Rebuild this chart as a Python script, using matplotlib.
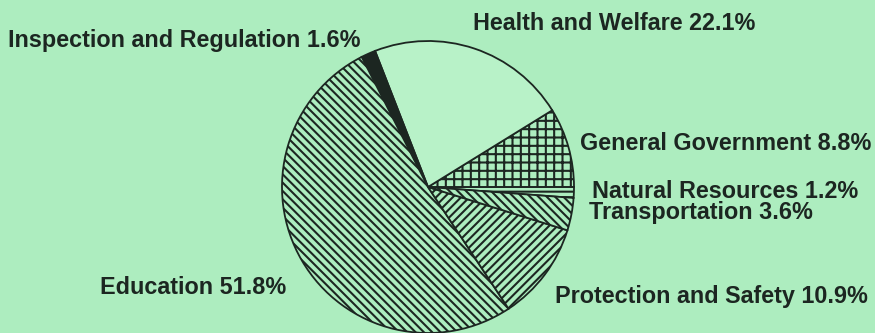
import matplotlib
matplotlib.use("Agg")
import matplotlib.pyplot as plt

# state spending shares, counter-clockwise from the right edge
categories = ["Natural Resources", "General Government", "Health and Welfare",
              "Inspection and Regulation", "Education", "Protection and Safety",
              "Transportation"]
shares = [1.2, 8.8, 22.1, 1.6, 51.8, 10.9, 3.6]
hatches = ["---", "++", "", "", "\\\\\\\\", "////", "\\\\\\\\"]

bg = "#adedbf"
ink = "#1c2621"
fills = [bg, bg, "#b8f2c8", ink, bg, bg, bg]

# label anchor (left x, centre y) in pixel units, y measured from the top
label_pos = {
    "Natural Resources": (592, 191),
    "General Government": (580, 144),
    "Health and Welfare": (473, 24),
    "Inspection and Regulation": (8, 41),
    "Education": (100, 287),
    "Protection and Safety": (555, 296),
    "Transportation": (589, 212),
}

W, H = 875, 333
plt.rcParams["hatch.linewidth"] = 1.5
plt.rcParams["font.family"] = ["Liberation Sans", "DejaVu Sans"]

fig = plt.figure(figsize=(W / 100, H / 100), dpi=100)
fig.patch.set_facecolor(bg)
ax = fig.add_axes([0, 0, 1, 1])
ax.set_facecolor(bg)

wedges, _ = ax.pie(shares, center=(428, H - 187), radius=146, startangle=-4.3,
                   counterclock=True, colors=fills, frame=True,
                   wedgeprops=dict(edgecolor=ink, linewidth=1.3))
for w, h in zip(wedges, hatches):
    w.set_hatch(h)

ax.set_xlim(0, W)
ax.set_ylim(0, H)
ax.set_aspect("equal")
ax.axis("off")

for name, val in zip(categories, shares):
    x, y = label_pos[name]
    ax.text(x, H - y, f"{name} {val}%", ha="left", va="center",
            fontsize=16.8, fontweight="bold", color=ink)

fig.savefig("out.png", dpi=100, facecolor=bg)
